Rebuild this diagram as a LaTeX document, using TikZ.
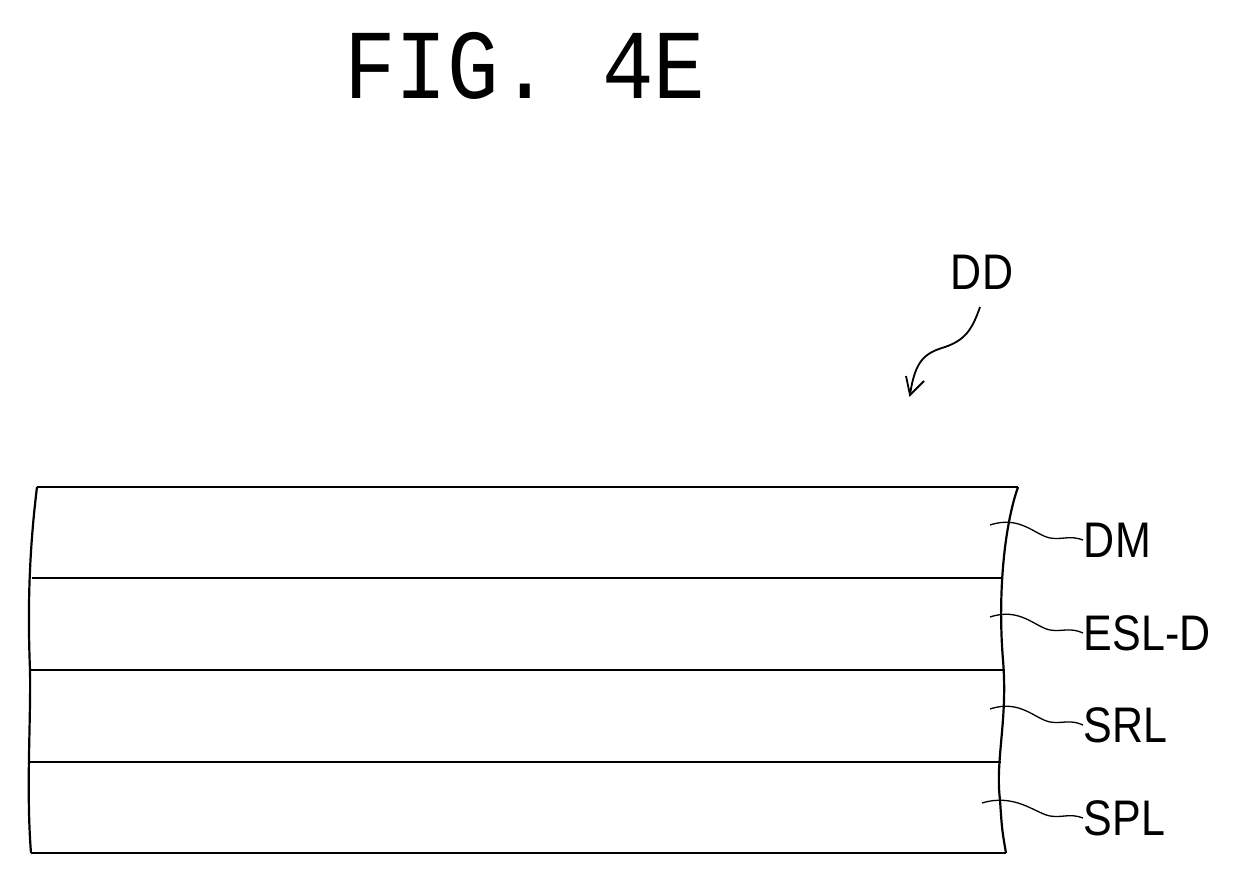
\documentclass[tikz,border=0pt]{standalone}
\usepackage{fontspec}
\setmainfont{Liberation Sans}
\newfontfamily\titlefont{Liberation Mono}
\begin{document}
\begin{tikzpicture}[x=1pt,y=-1pt,line width=2.2pt,
  lbl/.style={anchor=west,inner sep=0,font=\fontsize{50}{50}\selectfont,xscale=0.86},
  lead/.style={line width=1.3pt}]
\useasboundingbox (0,0) rectangle (1234,875);
\node[font=\titlefont\fontsize{86}{86}\selectfont,inner sep=0,yscale=1.15] (title) at (525,66) {FIG. 4E};
% layers
\coordinate (tl) at (37,487); \coordinate (tr) at (1018,487);
\coordinate (bl) at (31,853); \coordinate (br) at (1006,853);
\draw (tl) -- (tr);
\draw (32,578) -- (1001,578);
\draw (29,670) -- (1005,670);
\draw (29,762) -- (1001,762);
\draw (bl) -- (br);
\draw (tl) .. controls (28,560) and (28,620) .. (30,670) .. controls (31,720) and (26,790) .. (bl);
\draw (tr) .. controls (1003,530) and (998,600) .. (1003,660) .. controls (1008,720) and (995,760) .. (1000,800) .. controls (1002,830) .. (br);
% leaders
\node[lbl] (dm) at (1083,540) {DM};
\node[lbl] (esl) at (1083,633) {ESL-D};
\node[lbl] (srl) at (1083,725) {SRL};
\node[lbl] (spl) at (1083,818) {SPL};
\draw[lead] (990,525) .. controls (1020,515) and (1035,535) .. (1050,538) .. controls (1062,540) and (1070,535) .. (dm.west);
\draw[lead] (990,617) .. controls (1020,607) and (1035,627) .. (1050,630) .. controls (1062,632) and (1070,627) .. (esl.west);
\draw[lead] (990,709) .. controls (1020,699) and (1035,719) .. (1050,722) .. controls (1062,724) and (1070,719) .. (srl.west);
\draw[lead] (982,803) .. controls (1015,793) and (1035,813) .. (1050,816) .. controls (1062,818) and (1070,813) .. (spl.west);
% DD
\node[lbl] (dd) at (950,272) {DD};
\coordinate (ddtip) at (910,395);
\draw[line width=1.8pt] (980,307) .. controls (972,330) and (965,340) .. (945,347) .. controls (925,353) and (915,360) .. (ddtip);
\draw[line width=1.8pt] (906,376) -- (ddtip) -- (924,381);
\end{tikzpicture}
\end{document}
